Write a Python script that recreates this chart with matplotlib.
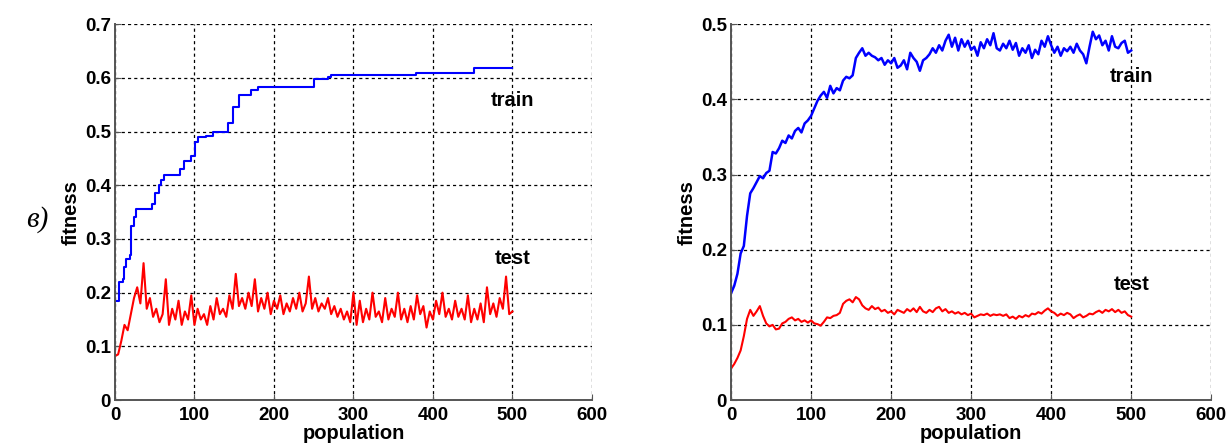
import matplotlib.pyplot as plt
import numpy as np

plt.rcParams['font.family'] = ['Liberation Sans', 'DejaVu Sans']

# left panel: train is a step curve, test is noisy
left_train_x = [0, 5, 10, 12, 14, 19, 20, 24, 27, 38, 46, 50, 55, 58, 62, 75, 82, 87,
                96, 101, 105, 115, 123, 139, 142, 147, 148, 155, 156, 168, 171, 178,
                180, 248, 251, 268, 272, 377, 379, 445, 452, 500]
left_train_y = [0.185, 0.22, 0.225, 0.248, 0.263, 0.27, 0.325, 0.34, 0.355, 0.355, 0.365,
                0.385, 0.40, 0.41, 0.42, 0.42, 0.43, 0.445, 0.455, 0.48, 0.49, 0.492,
                0.50, 0.50, 0.516, 0.516, 0.546, 0.546, 0.569, 0.569, 0.577, 0.577,
                0.583, 0.583, 0.598, 0.601, 0.606, 0.606, 0.609, 0.609, 0.619, 0.619]
left_test = [0.082, 0.085, 0.11, 0.14, 0.13, 0.16, 0.19, 0.21, 0.18, 0.255, 0.17, 0.19,
             0.155, 0.17, 0.145, 0.16, 0.225, 0.14, 0.17, 0.15, 0.185, 0.14, 0.165, 0.15,
             0.195, 0.14, 0.17, 0.15, 0.16, 0.14, 0.175, 0.15, 0.19, 0.16, 0.17, 0.155,
             0.195, 0.17, 0.235, 0.175, 0.19, 0.17, 0.2, 0.175, 0.225, 0.165, 0.19, 0.17,
             0.2, 0.16, 0.185, 0.17, 0.195, 0.16, 0.18, 0.165, 0.19, 0.17, 0.2, 0.165,
             0.18, 0.23, 0.17, 0.19, 0.165, 0.18, 0.17, 0.19, 0.16, 0.175, 0.155, 0.17,
             0.15, 0.165, 0.145, 0.2, 0.14, 0.185, 0.145, 0.17, 0.15, 0.2, 0.155, 0.165,
             0.145, 0.19, 0.15, 0.17, 0.155, 0.2, 0.15, 0.17, 0.145, 0.175, 0.15, 0.195,
             0.16, 0.175, 0.135, 0.165, 0.15, 0.185, 0.16, 0.2, 0.155, 0.17, 0.15, 0.185,
             0.155, 0.17, 0.15, 0.195, 0.145, 0.17, 0.15, 0.18, 0.145, 0.21, 0.16, 0.18,
             0.155, 0.19, 0.17, 0.23, 0.16, 0.165]

# right panel
right_train = [0.142, 0.152, 0.168, 0.195, 0.205, 0.245, 0.275, 0.282, 0.29, 0.298, 0.295,
               0.302, 0.305, 0.33, 0.328, 0.335, 0.345, 0.342, 0.352, 0.348, 0.358, 0.362,
               0.356, 0.368, 0.372, 0.378, 0.388, 0.398, 0.405, 0.41, 0.402, 0.418, 0.408,
               0.415, 0.412, 0.425, 0.43, 0.428, 0.432, 0.455, 0.462, 0.468, 0.458, 0.462,
               0.458, 0.456, 0.452, 0.455, 0.446, 0.452, 0.448, 0.455, 0.442, 0.445, 0.452,
               0.44, 0.462, 0.455, 0.45, 0.438, 0.452, 0.455, 0.46, 0.468, 0.462, 0.472,
               0.465, 0.478, 0.486, 0.47, 0.482, 0.465, 0.48, 0.47, 0.478, 0.466, 0.47,
               0.458, 0.476, 0.468, 0.48, 0.472, 0.488, 0.468, 0.465, 0.474, 0.468, 0.478,
               0.466, 0.475, 0.458, 0.468, 0.462, 0.472, 0.455, 0.466, 0.46, 0.478, 0.47,
               0.484, 0.472, 0.462, 0.47, 0.458, 0.468, 0.464, 0.47, 0.462, 0.474, 0.465,
               0.46, 0.448, 0.47, 0.49, 0.48, 0.485, 0.472, 0.478, 0.465, 0.484, 0.47,
               0.468, 0.475, 0.478, 0.462, 0.465]
right_test = [0.042, 0.048, 0.056, 0.066, 0.085, 0.108, 0.12, 0.112, 0.118, 0.125, 0.112,
              0.102, 0.098, 0.1, 0.094, 0.095, 0.102, 0.104, 0.108, 0.11, 0.106, 0.108,
              0.104, 0.106, 0.103, 0.106, 0.102, 0.101, 0.099, 0.104, 0.11, 0.109, 0.112,
              0.113, 0.116, 0.128, 0.132, 0.134, 0.13, 0.137, 0.134, 0.126, 0.122, 0.12,
              0.125, 0.121, 0.123, 0.118, 0.12, 0.116, 0.118, 0.114, 0.12, 0.118, 0.116,
              0.121, 0.118, 0.122, 0.117, 0.124, 0.118, 0.116, 0.12, 0.117, 0.122, 0.124,
              0.118, 0.121, 0.116, 0.118, 0.115, 0.117, 0.114, 0.116, 0.113, 0.115, 0.11,
              0.112, 0.114, 0.113, 0.115, 0.112, 0.114, 0.113, 0.114, 0.112, 0.114, 0.109,
              0.111, 0.108, 0.112, 0.11, 0.113, 0.111, 0.115, 0.114, 0.117, 0.115, 0.119,
              0.122, 0.118, 0.116, 0.112, 0.115, 0.113, 0.116, 0.114, 0.109, 0.112, 0.114,
              0.11, 0.112, 0.115, 0.114, 0.117, 0.119, 0.116, 0.12, 0.118, 0.121, 0.117,
              0.12, 0.116, 0.118, 0.113, 0.111]

xticks = [0, 100, 200, 300, 400, 500, 600]


def style_axes(ax, ymax, yticks):
    ax.set_xlim(0, 600)
    ax.set_ylim(0, ymax)
    ax.set_xticks(xticks)
    ax.set_yticks(yticks)
    ax.set_yticklabels(['0' if t == 0 else '%g' % t for t in yticks])
    ax.grid(True, color='black', linestyle=(0, (2.5, 2.5)), linewidth=0.9)
    ax.set_axisbelow(True)
    for s in ['top', 'right']:
        ax.spines[s].set_visible(False)
    for s in ['left', 'bottom']:
        ax.spines[s].set_color('#555555')
        ax.spines[s].set_linewidth(1.4)
    ax.tick_params(direction='in', length=4, color='#555555', labelsize=13.5)
    ax.tick_params(axis='x', pad=5)
    ax.tick_params(axis='y', pad=3)
    for lab in ax.get_xticklabels() + ax.get_yticklabels():
        lab.set_fontweight('bold')
    ax.set_xlabel('population', fontsize=14.5, fontweight='bold', labelpad=0)
    ax.set_ylabel('fitness', fontsize=14.5, fontweight='bold', labelpad=3)


fig = plt.figure(figsize=(12.28, 4.48), dpi=100)
ax1 = fig.add_axes([0.0936, 0.107, 0.3884, 0.839])
ax2 = fig.add_axes([0.5953, 0.107, 0.3910, 0.839])

x_left = np.arange(0, 501, 4)[:len(left_test)]
ax1.plot(left_train_x, left_train_y, color='#0000ff', lw=1.5, drawstyle='steps-post')
ax1.plot(x_left, left_test, color='#ff0000', lw=1.5)
style_axes(ax1, 0.7, [0, 0.1, 0.2, 0.3, 0.4, 0.5, 0.6, 0.7])
ax1.text(500, 0.558, 'train', ha='center', va='center', fontsize=14.5, fontweight='bold')
ax1.text(500, 0.264, 'test', ha='center', va='center', fontsize=14.5, fontweight='bold')

x_right = np.arange(0, 501, 4)[:len(right_train)]
ax2.plot(x_right, right_train, color='#0000ff', lw=1.8)
ax2.plot(x_right[:len(right_test)], right_test, color='#ff0000', lw=1.5)
style_axes(ax2, 0.5, [0, 0.1, 0.2, 0.3, 0.4, 0.5])
ax2.text(500, 0.43, 'train', ha='center', va='center', fontsize=14.5, fontweight='bold')
ax2.text(500, 0.154, 'test', ha='center', va='center', fontsize=14.5, fontweight='bold')

fig.text(0.03, 0.51, 'в)', fontsize=21, style='italic',
         family=['Liberation Serif', 'DejaVu Serif'], ha='center', va='center')

fig.savefig('out.png', dpi=100)
